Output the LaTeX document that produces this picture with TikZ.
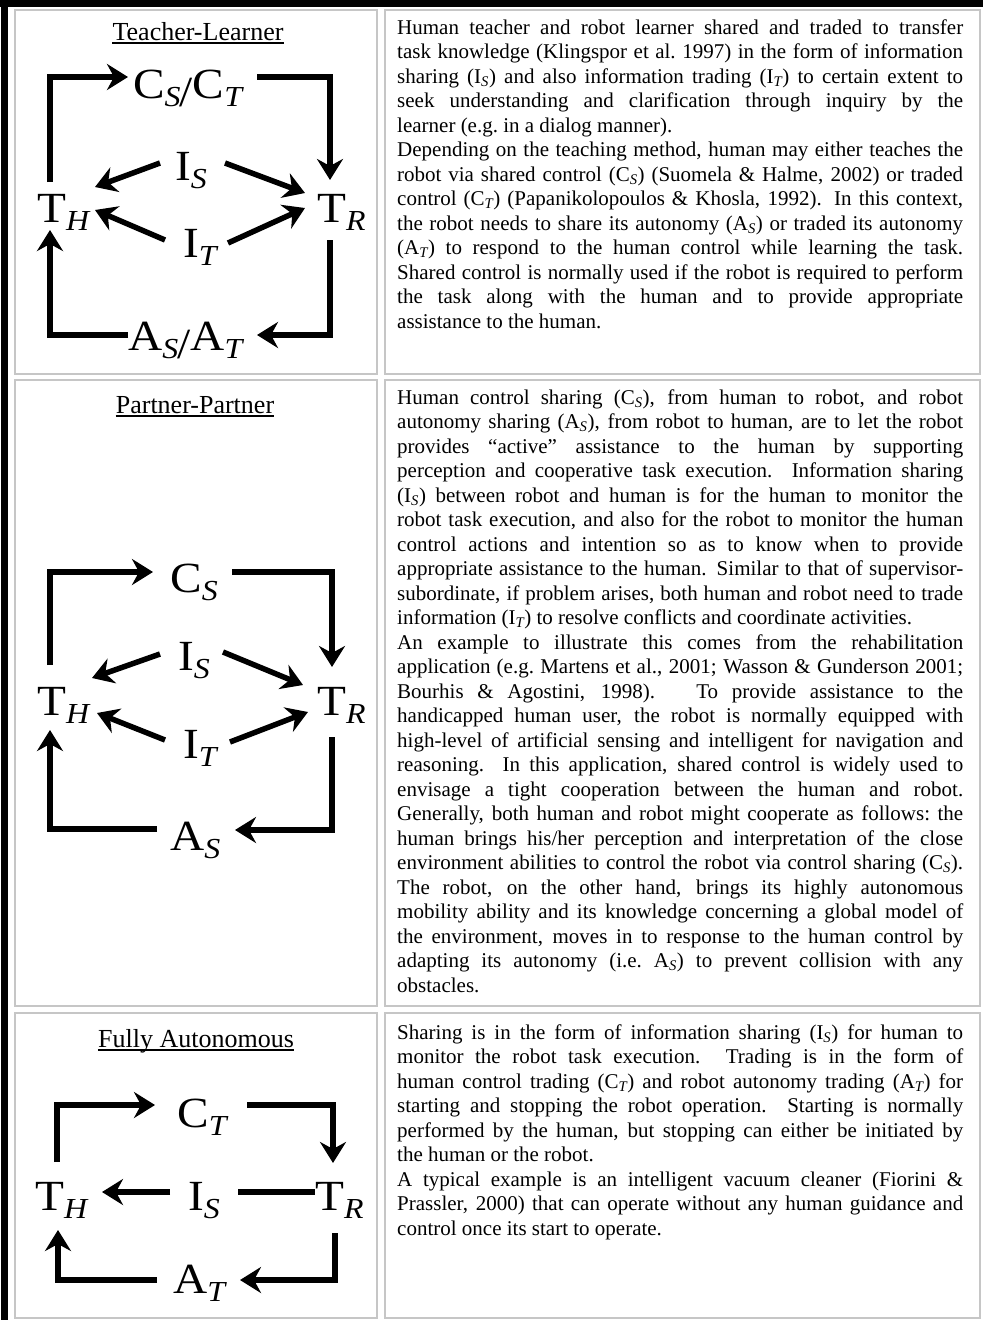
\documentclass[tikz,border=0pt]{standalone}
\usepackage{fontspec}
\setmainfont{Liberation Serif}
\newfontfamily\dfont[FakeStretch=1.1]{Liberation Serif}
\usetikzlibrary{arrows.meta}
\definecolor{cellgray}{RGB}{198,198,198}
\newcommand\tsub[1]{\textsubscript{\itshape #1}}
\newcommand\bsub[1]{\raisebox{-8pt}{\fontsize{29}{29}\selectfont\itshape #1}}
\newcommand\bslash{\raisebox{-8pt}{/}}
\newcommand\jl[1]{\hbox to \hsize{#1}}
\newcommand\lastl[1]{\hbox{#1}}
\newcommand\para[1]{\vtop{\hsize=566pt\fontsize{21}{24.5}\selectfont\baselineskip=24.5pt\lineskiplimit=-50pt\lineskip=0pt #1}}
\tikzset{
  cell/.style={draw=cellgray, line width=2pt},
  big/.style={anchor=base west, inner sep=0pt, font=\dfont\fontsize{43}{43}\selectfont},
  ttl/.style={anchor=base, inner sep=0pt, font=\fontsize{26}{26}\selectfont},
  body/.style={anchor=base west, inner sep=0pt},
  arr/.style={line width=5.5pt, line join=miter, -{Stealth[length=21pt,width=26pt,inset=7pt]}},
  ln/.style={line width=5.5pt, line join=miter},
  uline/.style={line width=1.5pt}
}
\begin{document}
\begin{tikzpicture}[x=1pt,y=-1pt]
\useasboundingbox (0,0) rectangle (987,1320);
\fill[white] (0,0) rectangle (987,1320);
% black frame
\fill[black] (0,0) rectangle (983,7);
\fill[black] (1,0) rectangle (8,1320);
% cells
\draw[cell] (15,10) rectangle (377,374);
\draw[cell] (385,10) rectangle (980,374);
\draw[cell] (15,380) rectangle (377,1006);
\draw[cell] (385,380) rectangle (980,1006);
\draw[cell] (15,1013) rectangle (377,1318);
\draw[cell] (385,1013) rectangle (980,1318);

% ---------- Row 1 diagram ----------
\node[ttl] (t1) at (198,40) {Teacher-Learner};
\draw[uline] ([yshift=-3pt]t1.base west) -- ([yshift=-3pt]t1.base east);
\node[big] (C1) at (133,98) {C\bsub{S}\kern-1pt\bslash C\bsub{T}};
\node[big] (TH1) at (37,222) {T\bsub{H}};
\node[big] (TR1) at (317,222) {T\bsub{R}};
\node[big] (IS1) at (175,180) {I\bsub{S}};
\node[big] (IT1) at (183,257) {I\bsub{T}};
\node[big] (A1) at (128,350) {A\bsub{S}\kern-1pt\bslash A\bsub{T}};
\coordinate (r1a) at (50,182); \coordinate (r1b) at (128,77);
\coordinate (r1c) at (257,77); \coordinate (r1d) at (330,180);
\coordinate (r1e) at (330,240); \coordinate (r1f) at (257,335);
\coordinate (r1g) at (128,335); \coordinate (r1h) at (50,230);
\coordinate (r1i) at (160,163); \coordinate (r1j) at (95,187);
\coordinate (r1k) at (225,163); \coordinate (r1l) at (305,193);
\coordinate (r1m) at (165,240); \coordinate (r1n) at (95,210);
\coordinate (r1o) at (228,243); \coordinate (r1p) at (305,208);
\draw[arr] (r1a) |- (r1b);
\draw[arr] (r1c) -| (r1d);
\draw[arr] (r1e) |- (r1f);
\draw[arr] (r1g) -| (r1h);
\draw[arr] (r1i) -- (r1j);
\draw[arr] (r1k) -- (r1l);
\draw[arr] (r1m) -- (r1n);
\draw[arr] (r1o) -- (r1p);

% ---------- Row 2 diagram ----------
\node[ttl] (t2) at (195,413) {Partner-Partner};
\draw[uline] ([yshift=-3pt]t2.base west) -- ([yshift=-3pt]t2.base east);
\node[big] (C2) at (170,592) {C\bsub{S}};
\node[big] (TH2) at (37,715) {T\bsub{H}};
\node[big] (TR2) at (317,715) {T\bsub{R}};
\node[big] (IS2) at (178,670) {I\bsub{S}};
\node[big] (IT2) at (183,758) {I\bsub{T}};
\node[big] (A2) at (170,850) {A\bsub{S}};
\coordinate (r2a) at (50,665); \coordinate (r2b) at (153,572);
\coordinate (r2c) at (232,572); \coordinate (r2d) at (332,667);
\coordinate (r2e) at (332,737); \coordinate (r2f) at (235,830);
\coordinate (r2g) at (157,829); \coordinate (r2h) at (50,730);
\coordinate (r2i) at (160,654); \coordinate (r2j) at (92,678);
\coordinate (r2k) at (223,652); \coordinate (r2l) at (303,685);
\coordinate (r2m) at (165,740); \coordinate (r2n) at (97,713);
\coordinate (r2o) at (230,742); \coordinate (r2p) at (308,712);
\draw[arr] (r2a) |- (r2b);
\draw[arr] (r2c) -| (r2d);
\draw[arr] (r2e) |- (r2f);
\draw[arr] (r2g) -| (r2h);
\draw[arr] (r2i) -- (r2j);
\draw[arr] (r2k) -- (r2l);
\draw[arr] (r2m) -- (r2n);
\draw[arr] (r2o) -- (r2p);

% ---------- Row 3 diagram ----------
\node[ttl] (t3) at (196,1047) {Fully Autonomous};
\draw[uline] ([yshift=-3pt]t3.base west) -- ([yshift=-3pt]t3.base east);
\node[big] (C3) at (177,1127) {C\bsub{T}};
\node[big] (TH3) at (35,1210) {T\bsub{H}};
\node[big] (IS3) at (188,1210) {I\bsub{S}};
\node[big] (TR3) at (315,1210) {T\bsub{R}};
\node[big] (A3) at (173,1293) {A\bsub{T}};
\coordinate (r3a) at (57,1162); \coordinate (r3b) at (155,1105);
\coordinate (r3c) at (247,1105); \coordinate (r3d) at (333,1163);
\coordinate (r3e) at (335,1233); \coordinate (r3f) at (240,1280);
\coordinate (r3g) at (157,1280); \coordinate (r3h) at (58,1230);
\coordinate (r3i) at (170,1192); \coordinate (r3j) at (102,1192);
\coordinate (r3k) at (238,1192); \coordinate (r3l) at (315,1192);
\draw[arr] (r3a) |- (r3b);
\draw[arr] (r3c) -| (r3d);
\draw[arr] (r3e) |- (r3f);
\draw[arr] (r3g) -| (r3h);
\draw[arr] (r3i) -- (r3j);
\draw[ln] (r3k) -- (r3l);

% ---------- Texts ----------
\node[body] (txt1) at (397,34) {\para{%
\jl{Human teacher and robot learner shared and traded to transfer}
\jl{task knowledge (Klingspor et al.\ 1997) in the form of information}
\jl{sharing (I\tsub{S}) and also information trading (I\tsub{T}) to certain extent to}
\jl{seek understanding and clarification through inquiry by the}
\lastl{learner (e.g.\ in a dialog manner).}
\jl{Depending on the teaching method, human may either teaches the}
\jl{robot via shared control (C\tsub{S}) (Suomela \& Halme, 2002) or traded}
\jl{control (C\tsub{T}) (Papanikolopoulos \& Khosla, 1992).  In this context,}
\jl{the robot needs to share its autonomy (A\tsub{S}) or traded its autonomy}
\jl{(A\tsub{T}) to respond to the human control while learning the task.}
\jl{Shared control is normally used if the robot is required to perform}
\jl{the task along with the human and to provide appropriate}
\lastl{assistance to the human.}
}};

\node[body] (txt2) at (397,404) {\para{%
\jl{Human control sharing (C\tsub{S}), from human to robot, and robot}
\jl{autonomy sharing (A\tsub{S}), from robot to human, are to let the robot}
\jl{provides “active” assistance to the human by supporting}
\jl{perception and cooperative task execution.  Information sharing}
\jl{(I\tsub{S}) between robot and human is for the human to monitor the}
\jl{robot task execution, and also for the robot to monitor the human}
\jl{control actions and intention so as to know when to provide}
\jl{appropriate assistance to the human.  Similar to that of supervisor-}
\jl{subordinate, if problem arises, both human and robot need to trade}
\lastl{information (I\tsub{T}) to resolve conflicts and coordinate activities.}
\jl{An example to illustrate this comes from the rehabilitation}
\jl{application (e.g.\ Martens et al., 2001; Wasson \& Gunderson 2001;}
\jl{Bourhis \& Agostini, 1998).\ \ \ To provide assistance to the}
\jl{handicapped human user, the robot is normally equipped with}
\jl{high-level of artificial sensing and intelligent for navigation and}
\jl{reasoning.  In this application, shared control is widely used to}
\jl{envisage a tight cooperation between the human and robot.}
\jl{Generally, both human and robot might cooperate as follows:\ the}
\jl{human brings his/her perception and interpretation of the close}
\jl{environment abilities to control the robot via control sharing (C\tsub{S}).}
\jl{The robot, on the other hand, brings its highly autonomous}
\jl{mobility ability and its knowledge concerning a global model of}
\jl{the environment, moves in to response to the human control by}
\jl{adapting its autonomy (i.e.\ A\tsub{S}) to prevent collision with any}
\lastl{obstacles.}
}};

\node[body] (txt3) at (397,1039) {\para{%
\jl{Sharing is in the form of information sharing (I\tsub{S}) for human to}
\jl{monitor the robot task execution.  Trading is in the form of}
\jl{human control trading (C\tsub{T}) and robot autonomy trading (A\tsub{T}) for}
\jl{starting and stopping the robot operation.  Starting is normally}
\jl{performed by the human, but stopping can either be initiated by}
\lastl{the human or the robot.}
\jl{A typical example is an intelligent vacuum cleaner (Fiorini \&}
\jl{Prassler, 2000) that can operate without any human guidance and}
\lastl{control once its start to operate.}
}};
\end{tikzpicture}
\end{document}
